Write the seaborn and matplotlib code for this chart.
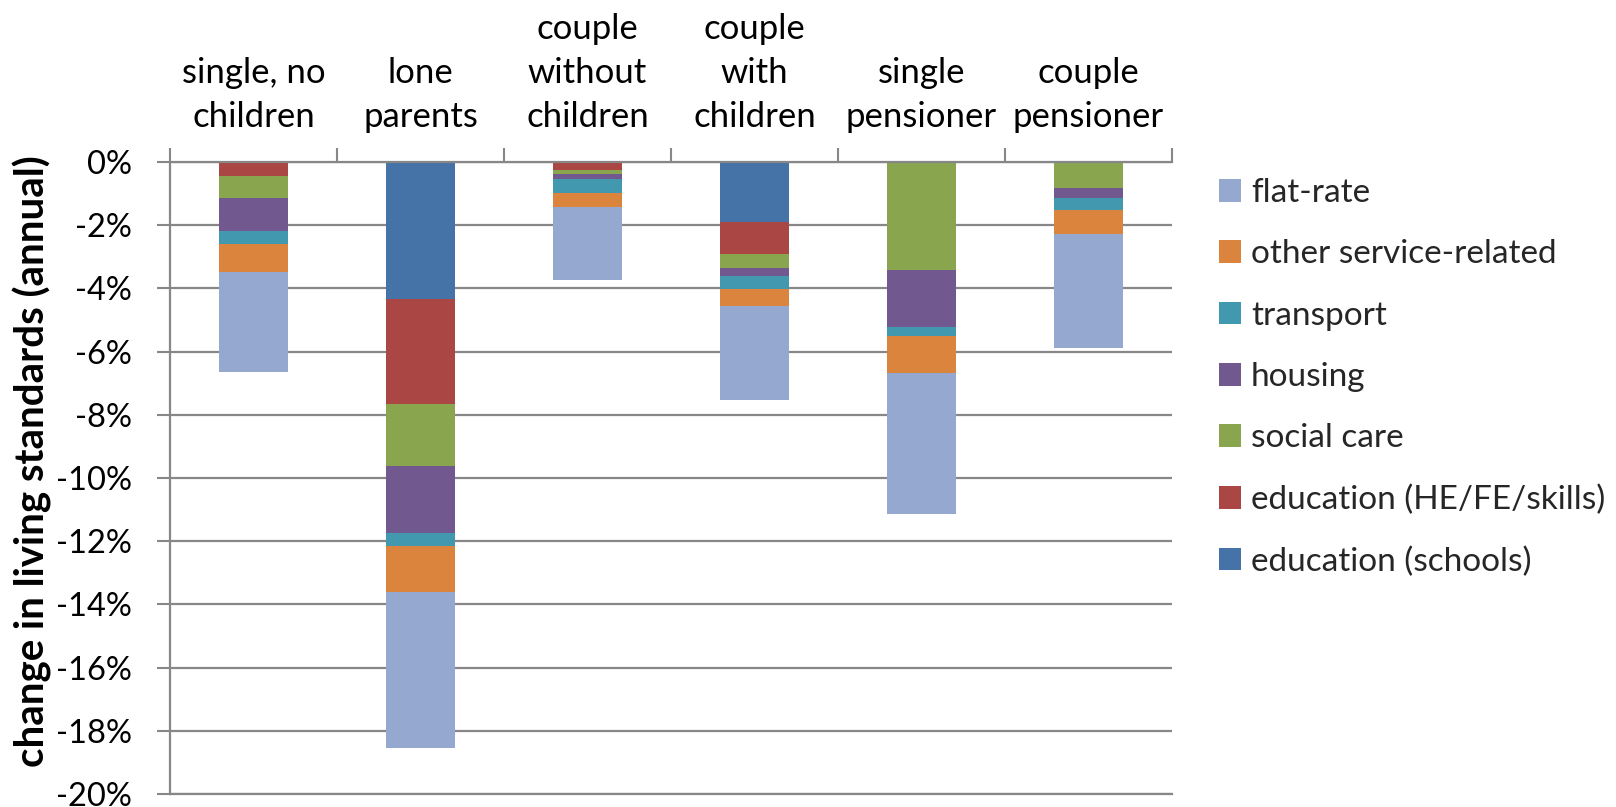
import numpy as np
import pandas as pd
import matplotlib
matplotlib.use("Agg")
import matplotlib.pyplot as plt
import seaborn as sns
from matplotlib.patches import Patch
from matplotlib.ticker import FixedLocator, FuncFormatter

# Household types (category axis, shown along the top)
households = [
    "single, no\nchildren",
    "lone\nparents",
    "couple\nwithout\nchildren",
    "couple\nwith\nchildren",
    "single\npensioner",
    "couple\npensioner",
]

# Change in living standards by component, % (annual), listed top of stack to bottom
schools = [0.00, -4.35, 0.00, -1.89, 0.00, 0.00]
he_fe_skills = [-0.44, -3.32, -0.25, -1.02, -0.03, -0.03]
social_care = [-0.70, -1.96, -0.13, -0.45, -3.39, -0.79]
housing = [-1.05, -2.10, -0.16, -0.25, -1.81, -0.32]
transport = [-0.41, -0.41, -0.44, -0.41, -0.28, -0.38]
other_service = [-0.88, -1.47, -0.45, -0.53, -1.17, -0.76]
flat_rate = [-3.16, -4.93, -2.31, -2.99, -4.46, -3.61]

components = [
    "education (schools)",
    "education (HE/FE/skills)",
    "social care",
    "housing",
    "transport",
    "other service-related",
    "flat-rate",
]
series = [schools, he_fe_skills, social_care, housing, transport, other_service, flat_rate]
colors = ["#4572A7", "#AA4643", "#89A54E", "#71588F", "#4198AF", "#DB843D", "#95A9D0"]

y_ticks = list(range(0, -21, -2))

# Long-form table with running totals down each stack
rows = []
for h_idx, h in enumerate(households):
    running = 0.0
    for comp, vals in zip(components, series):
        running += vals[h_idx]
        rows.append({"household": h, "component": comp, "value": vals[h_idx], "cum": running})
df = pd.DataFrame(rows)

sns.set_theme(style="white")
plt.rcParams["font.family"] = ["Lato", "DejaVu Sans"]

grey = "#878787"
fig = plt.figure(figsize=(16.16, 8.07), dpi=100)
ax = fig.add_axes([170 / 1616, 1 - 794 / 807, (1172 - 170) / 1616, (794 - 162) / 807])

# Stacks are drawn deepest running total first so each layer shows its own slice
for comp, col in reversed(list(zip(components, colors))):
    sns.barplot(
        data=df[df["component"] == comp], x="household", y="cum",
        order=households, color=col, saturation=1, width=0.41,
        errorbar=None, linewidth=0, ax=ax,
    )

ax.set_ylim(-20, 0)
ax.set_xlim(-0.5, len(households) - 0.5)
ax.set_axisbelow(True)
ax.yaxis.grid(True, color=grey, linewidth=1.6)
ax.xaxis.grid(False)

ax.yaxis.set_major_locator(FixedLocator(y_ticks))
ax.yaxis.set_major_formatter(FuncFormatter(lambda v, p: f"{v:.0f}%"))
ax.tick_params(axis="y", which="major", left=True, length=9.5, width=1.5, color=grey,
               labelsize=23.5, pad=18, labelcolor="black")

ax.xaxis.tick_top()
ax.set_xticks(range(len(households)))
ax.set_xticklabels(households, linespacing=1.45)
ax.set_xticks(np.arange(-0.5, len(households), 1.0), minor=True)
ax.tick_params(axis="x", which="major", length=0, labelsize=25, pad=21, labelcolor="black")
ax.tick_params(axis="x", which="minor", top=True, length=10, width=1.5, color=grey)

ax.set_xlabel("")
ax.set_ylabel("change in living standards (annual)", fontsize=29, fontweight="bold", color="black")
ax.yaxis.set_label_coords(-0.118, 0.527)

for side in ["left", "top", "bottom"]:
    ax.spines[side].set_visible(True)
    ax.spines[side].set_color(grey)
    ax.spines[side].set_linewidth(1.6)
ax.spines["right"].set_visible(False)

handles = [Patch(facecolor=c, edgecolor="none") for c in reversed(colors)]
fig.legend(
    handles, list(reversed(components)), loc="upper left",
    bbox_to_anchor=(1219 / 1616, 1 - 178 / 807), frameon=False, fontsize=24,
    handlelength=0.66, handleheight=0.66, handletextpad=0.3, labelspacing=0.94,
    borderpad=0, borderaxespad=0,
)

fig.savefig("out.png", dpi=100)
